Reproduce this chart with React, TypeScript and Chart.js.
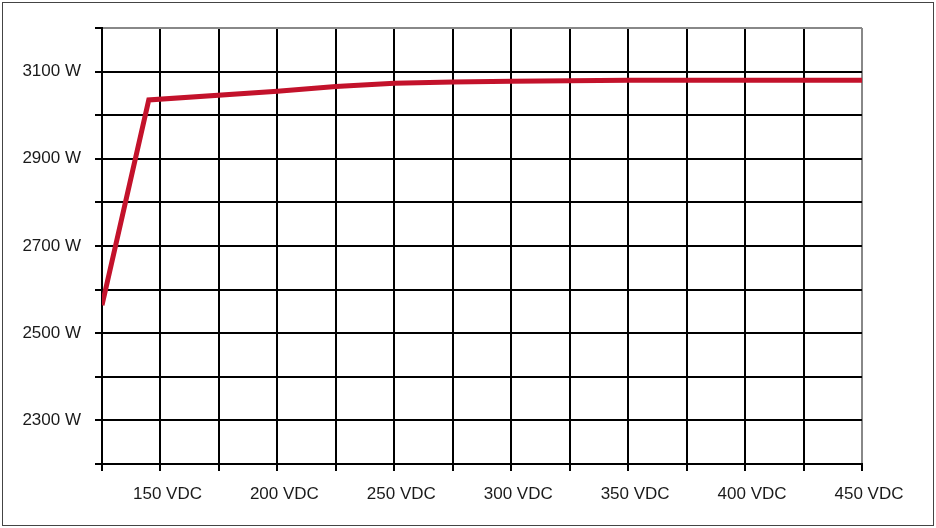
import React, { useEffect, useRef } from "react";
import { Chart, registerables } from "chart.js";

Chart.register(...registerables);

const voltages = [125, 145, 200, 225, 250, 275, 300, 350, 400, 450];
const powers = [2564, 3035, 3055, 3066, 3073, 3076, 3078, 3080, 3080, 3080];
const xLabelEvery = 50;
const yLabels = [2300, 2500, 2700, 2900, 3100];

export default function App() {
  const ref = useRef<HTMLCanvasElement | null>(null);
  useEffect(() => {
    document.body.style.margin = "0";
    const ctx = ref.current!.getContext("2d")!;
    const chart = new Chart(ctx, {
      type: "line",
      data: {
        datasets: [
          {
            data: voltages.map((v, i) => ({ x: v, y: powers[i] })),
            borderColor: "#C3122B",
            borderWidth: 5,
            pointRadius: 0,
            tension: 0,
            fill: false,
          },
        ],
      },
      options: {
        animation: false,
        responsive: false,
        maintainAspectRatio: false,
        layout: { padding: { top: 28, right: 74, left: 0, bottom: 0 } },
        plugins: { legend: { display: false }, tooltip: { enabled: false } },
        scales: {
          x: {
            type: "linear",
            min: 125,
            max: 450,
            afterFit: (s: any) => {
              s.height = 64;
            },
            ticks: {
              stepSize: 25,
              autoSkip: false,
              maxRotation: 0,
              padding: 13,
              labelOffset: 7,
              color: "#1a1a1a",
              font: { family: "'Liberation Sans', Arial, sans-serif", size: 17 },
              callback: (v: any) => (Number(v) % xLabelEvery === 0 ? `${v} VDC` : ""),
            },
            grid: {
              color: (c: any) => (c.tick && c.tick.value === 450 ? "#888" : "#000"),
              lineWidth: 2,
              tickLength: 7,
              tickColor: "#000",
              tickWidth: 2,
            },
            border: { color: "#000", width: 2 },
          },
          y: {
            type: "linear",
            min: 2200,
            max: 3200,
            afterFit: (s: any) => {
              s.width = 102;
            },
            ticks: {
              stepSize: 100,
              autoSkip: false,
              padding: 14,
              color: "#1a1a1a",
              font: { family: "'Liberation Sans', Arial, sans-serif", size: 17 },
              callback: (v: any) => (yLabels.includes(Number(v)) ? `${v} W` : ""),
            },
            grid: {
              color: (c: any) => (c.tick && c.tick.value === 3200 ? "#888" : "#000"),
              lineWidth: 2,
              tickLength: 7,
              tickColor: "#000",
              tickWidth: 2,
            },
            border: { color: "#000", width: 2 },
          },
        },
      },
    });
    return () => chart.destroy();
  }, []);
  return (
    <div style={{ position: "relative", width: 936, height: 528, background: "#fff" }}>
      <canvas ref={ref} width={936} height={528} style={{ position: "absolute", left: 0, top: 0, width: 936, height: 528 }} />
      <div
        style={{
          position: "absolute",
          left: 2,
          top: 2,
          width: 930,
          height: 522,
          border: "1px solid #444",
          pointerEvents: "none",
        }}
      />
    </div>
  );
}
